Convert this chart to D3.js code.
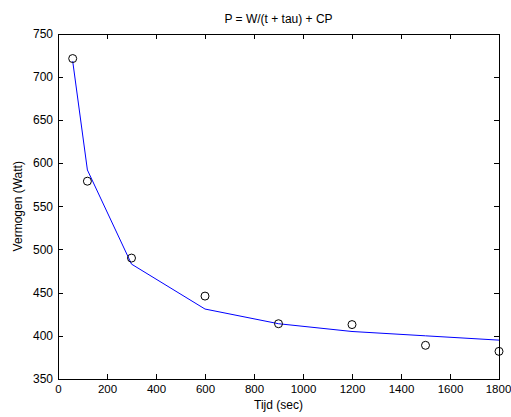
<!DOCTYPE html>
<html lang="nl">
<head>
<meta charset="utf-8">
<title>P = W/(t + tau) + CP</title>
<script src="https://cdn.jsdelivr.net/npm/d3@7"></script>
<style>
  body { margin: 0; background: #fff; }
  text { font-family: "Liberation Sans", Arial, sans-serif; fill: #000; }
  .axis path, .axis line { stroke: #000; shape-rendering: crispEdges; }
  .axis text { font-size: 12px; }
  .xaxis text { font-size: 11.5px; }
</style>
</head>
<body>
<script>
// measured time (sec) and power (Watt)
var tijd = [60, 120, 300, 600, 900, 1200, 1500, 1800];
var gemeten = [721, 579, 490, 446, 414, 413, 389, 382];
// fitted model P = W/(t + tau) + CP
var model = [718, 592, 483, 431, 414, 405, 400, 395];

var xTicks = [0, 200, 400, 600, 800, 1000, 1200, 1400, 1600, 1800];
var yTicks = [350, 400, 450, 500, 550, 600, 650, 700, 750];

var w = 511, h = 417;
// plot box (don't call these top/left, window.top is taken)
var pL = 58, pR = 499, pT = 33.5, pB = 379;

var svg = d3.select("body").append("svg")
  .attr("width", w)
  .attr("height", h);

var x = d3.scaleLinear().domain([0, 1800]).range([pL, pR]);
var y = d3.scaleLinear().domain([350, 750]).range([pB, pT]);

// box
svg.append("rect")
  .attr("x", pL).attr("y", pT)
  .attr("width", pR - pL).attr("height", pB - pT)
  .attr("fill", "#fff");

// axes, ticks pointing inward like matlab
var xAxisG = svg.append("g").attr("class", "axis xaxis")
  .attr("transform", "translate(0," + pB + ")")
  .call(d3.axisBottom(x).tickValues(xTicks).tickFormat(d3.format("d"))
    .tickSize(-5).tickSizeOuter(0).tickPadding(6));
// last label hugs the window edge
xAxisG.selectAll(".tick text").filter(function(d) { return d === 1800; })
  .attr("dx", -1);
svg.append("g").attr("class", "axis")
  .attr("transform", "translate(0," + pT + ")")
  .call(d3.axisTop(x).tickValues(xTicks).tickSize(-5).tickSizeOuter(0).tickFormat(""));
svg.append("g").attr("class", "axis")
  .attr("transform", "translate(" + pL + ",0)")
  .call(d3.axisLeft(y).tickValues(yTicks).tickFormat(d3.format("d"))
    .tickSize(-5).tickSizeOuter(0).tickPadding(5));
svg.append("g").attr("class", "axis")
  .attr("transform", "translate(" + pR + ",0)")
  .call(d3.axisRight(y).tickValues(yTicks).tickSize(-5).tickSizeOuter(0).tickFormat(""));

// fitted line
var line = d3.line()
  .x(function(d, i) { return x(tijd[i]); })
  .y(function(d) { return y(d); });

svg.append("path")
  .datum(model)
  .attr("d", line)
  .attr("fill", "none")
  .attr("stroke", "#0000ff")
  .attr("stroke-width", 1);

// measured points
svg.selectAll("circle")
  .data(gemeten)
  .enter()
  .append("circle")
  .attr("cx", function(d, i) { return x(tijd[i]); })
  .attr("cy", function(d) { return y(d); })
  .attr("r", 4)
  .attr("fill", "none")
  .attr("stroke", "#000")
  .attr("stroke-width", 1);

// titles
svg.append("text")
  .attr("x", (pL + pR) / 2)
  .attr("y", 23)
  .attr("text-anchor", "middle")
  .attr("font-size", "12px")
  .text("P = W/(t + tau) + CP");

svg.append("text")
  .attr("x", (pL + pR) / 2)
  .attr("y", 409)
  .attr("text-anchor", "middle")
  .attr("font-size", "12px")
  .text("Tijd (sec)");

svg.append("text")
  .attr("transform", "translate(22," + (pT + pB) / 2 + ") rotate(-90)")
  .attr("text-anchor", "middle")
  .attr("font-size", "12px")
  .text("Vermogen (Watt)");
</script>
</body>
</html>
